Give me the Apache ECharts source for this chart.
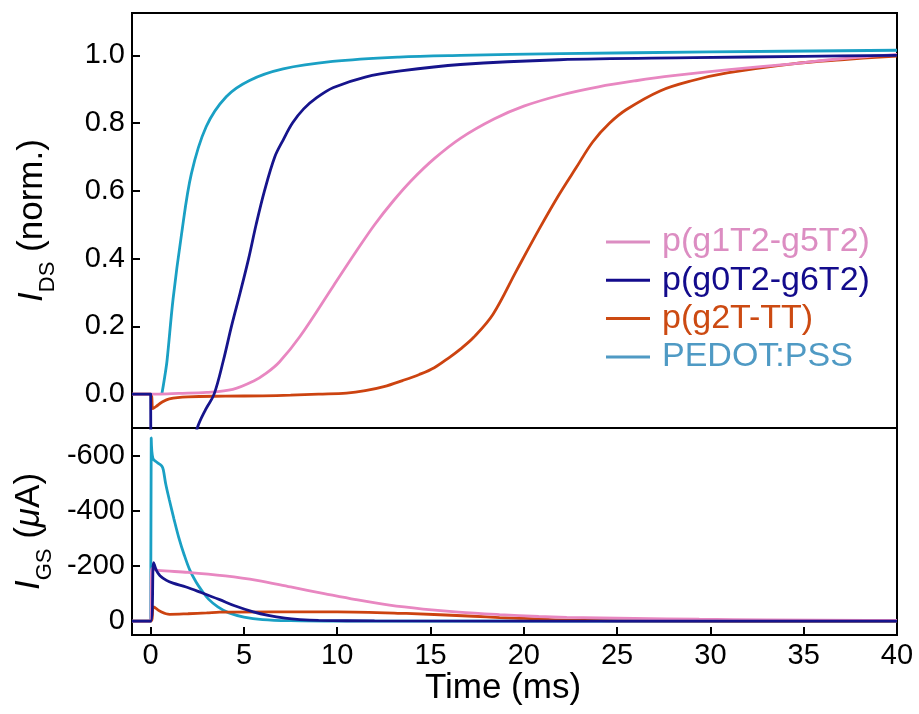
<!DOCTYPE html>
<html>
<head>
<meta charset="utf-8">
<title>Transient response</title>
<script src="https://cdn.jsdelivr.net/npm/echarts@6/dist/echarts.min.js"></script>
<style>
  html, body { margin: 0; padding: 0; background: #fff; }
  #chart { width: 919px; height: 714px; }
</style>
</head>
<body>
<div id="chart"></div>
<script>
// ---- series names ----
const names = ['p(g1T2-g5T2)', 'p(g0T2-g6T2)', 'p(g2T-TT)', 'PEDOT:PSS'];

// ---- tick values ----
const timeTicks = [0, 5, 10, 15, 20, 25, 30, 35, 40];
const idsTicks = [0, 0.2, 0.4, 0.6, 0.8, 1.0];
const igsTicks = [-600, -400, -200, 0];

// ---- normalised drain current, I_DS (norm.) ----
const tPinkDS = [-1, 0, 0.4, 1.5, 3, 4.4, 5.5, 6.2, 6.9, 8, 9.8, 11.0, 12.0, 13.0, 14.0, 15.2, 16.6, 18.4, 20, 22, 24, 26, 28, 31, 34.4, 37, 40];
const pinkDS  = [0, 0, 0, 0.002, 0.005, 0.014, 0.038, 0.062, 0.095, 0.17, 0.32, 0.42, 0.5, 0.57, 0.632, 0.695, 0.755, 0.812, 0.85, 0.883, 0.907, 0.925, 0.94, 0.958, 0.975, 0.99, 1.003];

const tNavyDS = [-1, 0, 0.03, 0.5, 1.0, 1.5, 2.0, 2.5, 2.95, 3.4, 3.9, 4.33, 4.8, 5.25, 5.65, 6.1, 6.65, 7.1, 7.6, 8.2, 8.9, 9.8, 11.5, 13.4, 16.6, 21.9, 29.1, 35, 40];
const navyDS  = [0, 0, -0.55, -0.5, -0.42, -0.32, -0.22, -0.1, -0.045, 0, 0.1, 0.2, 0.3, 0.4, 0.5, 0.6, 0.7, 0.75, 0.8, 0.842, 0.875, 0.905, 0.936, 0.954, 0.973, 0.987, 0.993, 0.997, 1.0];

const tOrangeDS = [-1, 0, 0.12, 0.3, 0.6, 1.0, 2, 4, 6, 7.5, 9.0, 10.5, 11.5, 12.5, 13.5, 14.4, 15.2, 16.0, 16.6, 17.3, 18.35, 19.6, 20.85, 21.9, 22.8, 23.7, 24.6, 25.5, 27.3, 29, 30.9, 34.4, 37, 40];
const orangeDS  = [0, 0, -0.043, -0.036, -0.024, -0.014, -0.008, -0.006, -0.005, -0.003, 0, 0.003, 0.01, 0.022, 0.04, 0.058, 0.078, 0.108, 0.133, 0.167, 0.236, 0.364, 0.49, 0.59, 0.668, 0.745, 0.8, 0.84, 0.895, 0.925, 0.948, 0.975, 0.987, 0.998];

const tCyanDS = [0.6, 0.75, 0.88, 1.2, 1.65, 2.18, 2.98, 4.05, 5.3, 7.1, 9.75, 13.3, 16.6, 22, 30, 40];
const cyanDS  = [0, 0.05, 0.1, 0.28, 0.47, 0.65, 0.79, 0.878, 0.926, 0.96, 0.982, 0.995, 1.0, 1.005, 1.01, 1.015];

// ---- gate current, I_GS (uA) ----
const tPinkGS = [-1, 0, 0.05, 0.39, 2, 4, 5.7, 7.5, 9.3, 11, 12.8, 14.6, 16.5, 18.7, 20.8, 22.3, 25.9, 29.4, 33, 38.4, 40];
const pinkGS  = [0, 0, -190, -184, -177, -164, -148, -124, -100, -78, -58, -44, -33, -24, -17, -14, -10, -7, -5, -3, -3];

const tNavyGS = [-1, 0, 0.16, 0.3, 0.5, 0.85, 1.2, 1.9, 2.7, 3.7, 4.5, 5.5, 6.3, 7.2, 8.0, 9, 12, 40];
const navyGS  = [0, 0, -212, -185, -165, -148, -138, -124, -104, -78, -56, -34, -21, -11, -6, -3, -1, 0];

const tOrangeGS = [-1, 0, 0.16, 0.48, 1.02, 2, 3, 3.7, 6.5, 10, 13.7, 17.3, 18.7, 20, 22.3, 26, 40];
const orangeGS  = [0, 0, -52, -37, -25, -27, -30, -33, -34, -34, -28, -18, -13, -10, -4, -1, 0];

const tCyanGS = [-1, 0, 0.03, 0.12, 0.35, 0.6, 0.68, 0.8, 1.0, 1.25, 1.5, 1.8, 2.1, 2.45, 2.75, 3.1, 3.6, 4.2, 5.0, 6.0, 7.5, 10, 40];
const cyanGS  = [0, 0, -664, -590, -575, -562, -548, -500, -440, -370, -305, -240, -185, -140, -110, -80, -52, -30, -15, -6, -2, -0.5, 0];

// ---- styling ----
const lineColors = ['#e887c1', '#16148c', '#cc4310', '#1aa0c4'];
const legendColors = ['#dc8dc2', '#130b8c', '#cc4a12', '#4f9ac4'];
const FONT = '"Liberation Sans", Arial, Helvetica, sans-serif';

const zip = (t, v) => t.map((x, i) => [x, v[i]]);

function makeLine(nameIdx, t, v, axisIdx, z) {
  return {
    type: 'line',
    name: names[nameIdx],
    xAxisIndex: axisIdx,
    yAxisIndex: axisIdx,
    data: zip(t, v),
    showSymbol: false,
    smooth: 0.35,
    clip: true,
    z: z,
    lineStyle: { color: lineColors[nameIdx], width: 2.8 },
    itemStyle: { color: lineColors[nameIdx] },
    emphasis: { disabled: true }
  };
}

const tickStyle = { inside: true, length: 8, lineStyle: { color: '#000', width: 2 } };
const lineAxis = { show: true, onZero: false, lineStyle: { color: '#000', width: 2 } };

const nameRich = {
  i: { fontFamily: FONT, fontSize: 35, fontStyle: 'italic', lineHeight: 54, verticalAlign: 'middle', color: '#000' },
  s: { fontFamily: FONT, fontSize: 22, lineHeight: 25, verticalAlign: 'bottom', color: '#000' },
  n: { fontFamily: FONT, fontSize: 35, lineHeight: 54, verticalAlign: 'middle', color: '#000' }
};

const option = {
  backgroundColor: '#fff',
  animation: false,
  grid: [
    { left: 132, top: 13, width: 765, height: 415, show: true, borderColor: '#000', borderWidth: 2, backgroundColor: 'transparent' },
    { left: 132, top: 428, width: 765, height: 207, show: true, borderColor: '#000', borderWidth: 2, backgroundColor: 'transparent' }
  ],
  legend: {
    orient: 'vertical',
    left: 601,
    top: 220,
    itemWidth: 44,
    itemHeight: 3,
    itemGap: 4.3,
    icon: 'rect',
    selectedMode: false,
    textStyle: { fontFamily: FONT, fontSize: 34, lineHeight: 34, padding: [0, 0, 0, 7] },
    data: names.map((n, i) => ({
      name: n,
      itemStyle: { color: legendColors[i] },
      textStyle: { color: legendColors[i] }
    }))
  },
  xAxis: [
    {
      type: 'value', gridIndex: 0, min: -1, max: 40,
      axisLine: lineAxis, axisTick: { show: false }, axisLabel: { show: false }, splitLine: { show: false }
    },
    {
      type: 'value', gridIndex: 1, min: -1, max: 40,
      axisLine: lineAxis,
      axisTick: Object.assign({ customValues: timeTicks }, tickStyle),
      axisLabel: { customValues: timeTicks, color: '#000', fontFamily: FONT, fontSize: 29, margin: 6 },
      splitLine: { show: false },
      name: 'Time (ms)',
      nameLocation: 'middle',
      nameGap: 29,
      nameTextStyle: { color: '#000', fontFamily: FONT, fontSize: 35, padding: [0, 23, 0, 0] }
    }
  ],
  yAxis: [
    {
      type: 'value', gridIndex: 0, min: -0.1, max: 1.125,
      axisLine: lineAxis,
      axisTick: Object.assign({ customValues: idsTicks }, tickStyle),
      axisLabel: { customValues: idsTicks, formatter: v => v.toFixed(1), color: '#000', fontFamily: FONT, fontSize: 29, margin: 7 },
      splitLine: { show: false },
      name: '{i|I}{s|DS}{n| (norm.)}',
      nameLocation: 'middle',
      nameRotate: 90,
      nameGap: 73,
      nameTextStyle: { rich: nameRich }
    },
    {
      type: 'value', gridIndex: 1, min: -700, max: 50, inverse: true,
      axisLine: lineAxis,
      axisTick: Object.assign({ customValues: igsTicks }, tickStyle),
      axisLabel: { customValues: igsTicks, formatter: v => String(v), color: '#000', fontFamily: FONT, fontSize: 29, margin: 7 },
      splitLine: { show: false },
      name: '{i|I}{s|GS}{n| (}{i|\u03bc}{n|A)}',
      nameLocation: 'middle',
      nameRotate: 90,
      nameGap: 73,
      nameTextStyle: { rich: nameRich }
    }
  ],
  series: [
    makeLine(3, tCyanDS, cyanDS, 0, 2),
    makeLine(2, tOrangeDS, orangeDS, 0, 3),
    makeLine(0, tPinkDS, pinkDS, 0, 4),
    makeLine(1, tNavyDS, navyDS, 0, 5),
    makeLine(3, tCyanGS, cyanGS, 1, 2),
    makeLine(2, tOrangeGS, orangeGS, 1, 3),
    makeLine(0, tPinkGS, pinkGS, 1, 4),
    makeLine(1, tNavyGS, navyGS, 1, 5)
  ]
};

const chart = echarts.init(document.getElementById('chart'), null, { renderer: 'canvas' });
chart.setOption(option);
</script>
</body>
</html>
